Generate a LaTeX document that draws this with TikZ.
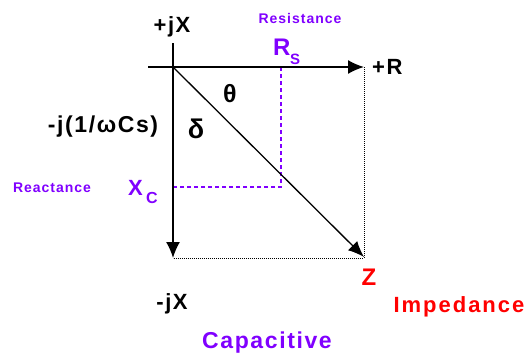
\documentclass[tikz,border=0pt]{standalone}
\usepackage{fontspec}
\setmainfont{Liberation Sans}
\usetikzlibrary{arrows.meta}
\definecolor{purp}{RGB}{128,0,255}
\definecolor{rd}{RGB}{255,0,0}
\newcommand{\fs}[1]{\fontsize{#1}{#1}\selectfont\bfseries\addfontfeatures{LetterSpace=7}}
\tikzset{
  axis/.style={line width=1.6pt,-{Latex[length=16pt,width=14pt]}},
  vec/.style={line width=1.3pt,-{Latex[length=16pt,width=13pt]}},
  dotln/.style={line width=0.8pt,dash pattern=on 0.8pt off 1.2pt},
  dashln/.style={purp,line width=1.3pt,dash pattern=on 4pt off 3pt},
  lbl/.style={inner sep=0pt,anchor=base},
  lblw/.style={inner sep=0pt,anchor=base west},
}
\begin{document}
\begin{tikzpicture}[x=1pt,y=-1pt]
\useasboundingbox (0,0) rectangle (530,354);
% coordinates
\coordinate (O) at (173,67);
\coordinate (Rstart) at (148,67);
\coordinate (Rend) at (364,67);
\coordinate (Xtop) at (173,43);
\coordinate (Xend) at (173,258);
\coordinate (Zend) at (364,257);
\coordinate (Corner) at (364,258);
\coordinate (RsFoot) at (281,67);
\coordinate (RsCorner) at (281,187);
\coordinate (XcPt) at (173,187);
% dotted box
\draw[dotln] (Rend) -- (Corner) -- (Xend);
% purple dashed
\draw[dashln] (RsFoot) -- (RsCorner) -- (XcPt);
% axes
\draw[axis] (Rstart) -- (Rend);
\draw[axis] (Xtop) -- (Xend);
% impedance vector
\draw[vec] (O) -- (Zend);
% labels
\node[lbl] (pjx) at (172,32) {\fs{22}+jX};
\node[lbl] (mjx) at (172,309) {\fs{22}-jX};
\node[lbl,purp] (res) at (300,23) {\fs{14}Resistance};
\node[lblw,purp] (rs) at (273,55) {\fs{24}R};
\node[lblw,purp] (rss) at (290,64) {\fs{15}S};
\node[lblw] (pr) at (372,74) {\fs{22}+R};
\node[inner sep=0pt] (th) at (230,94) {\fs{25}θ};
\node[inner sep=0pt] (de) at (196,129) {\fs{27}δ};
\node[lbl] (cap) at (103,132) {\fs{23}-j(1/ωCs)};
\node[lbl,purp] (rea) at (52,192) {\fs{14}Reactance};
\node[lblw,purp] (xc) at (128,195) {\fs{22}X};
\node[lblw,purp] (xcs) at (146,203) {\fs{16}C};
\node[lbl,rd] (z) at (369,285) {\fs{24}Z};
\node[lbl,rd] (imp) at (459,312) {\fs{22}\addfontfeatures{LetterSpace=9}Impedance};
\node[lbl,purp] (capa) at (267,348) {\fs{23}Capacitive};
\end{tikzpicture}
\end{document}
